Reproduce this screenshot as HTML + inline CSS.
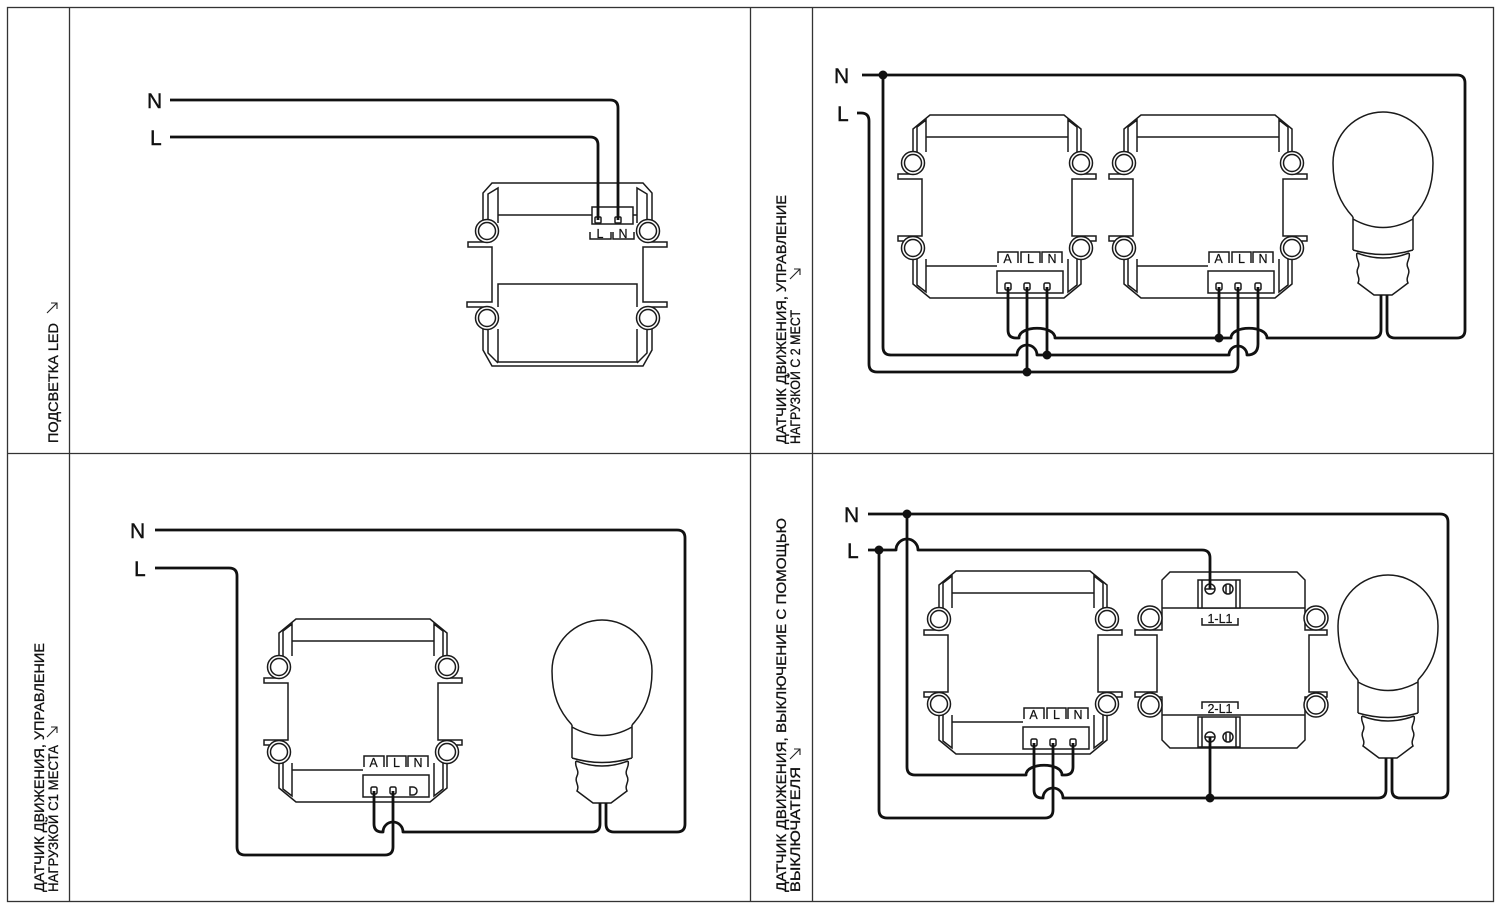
<!DOCTYPE html>
<html><head><meta charset="utf-8">
<style>
html,body{margin:0;padding:0;background:#fff;}
svg{display:block;}
.lbl{font-family:"Liberation Sans","DejaVu Sans",sans-serif;font-size:14px;fill:#111;stroke:#111;stroke-width:0.3;}
.nl{font-family:"Liberation Sans",sans-serif;font-size:21px;fill:#111;stroke:#111;stroke-width:0.4;}
.tl{font-family:"Liberation Sans",sans-serif;font-size:12.5px;fill:#111;text-anchor:middle;stroke:#111;stroke-width:0.2;}
.o{fill:none;stroke:#1a1a1a;stroke-width:1.5;}
.f{fill:#fff;stroke:#1a1a1a;stroke-width:1.5;}
.w{fill:none;stroke:#111;stroke-width:2.8;stroke-linejoin:round;}
.ar{fill:none;stroke:#222;stroke-width:1.1;}
</style></head><body>
<svg width="1500" height="908" viewBox="0 0 1500 908" xmlns="http://www.w3.org/2000/svg">
<defs>
<g id="sensor">
 <path class="f" d="M0,0 H134 L151,14 V59 H166 V64 H142 V121 H166 V126 H151 V169 L134,183 H0 L-17,169 V126 H-32 V121 H-8 V64 H-32 V59 H-17 V14 Z"/>
 <path class="o" d="M-4,37 V5 L-13,12 V37 M138,37 V5 L147,12 V37 M-13,144 V170 L-4,177 V144 M147,144 V170 L138,177 V144 M-4,22 H138 M-4,151 H67"/>
 <circle class="f" cx="-17" cy="48" r="11.5"/><circle class="f" cx="-17" cy="48" r="8.5"/>
 <circle class="f" cx="-17" cy="133" r="11.5"/><circle class="f" cx="-17" cy="133" r="8.5"/>
 <circle class="f" cx="151" cy="48" r="11.5"/><circle class="f" cx="151" cy="48" r="8.5"/>
 <circle class="f" cx="151" cy="133" r="11.5"/><circle class="f" cx="151" cy="133" r="8.5"/>
 <rect class="f" x="67" y="156" width="66" height="22"/>
 <path class="o" d="M68,148 V137 H88 V148 M91,148 V137 H110 V148 M112,148 V137 H132 V148"/>
</g>
<g id="bulb">
 <path class="o" stroke-width="1.7" d="M1353,217 C1340,203 1333,187 1333,163 C1333,134 1356,112 1383,112 C1410,112 1433,134 1433,163 C1433,187 1426,203 1413,217"/>
 <path class="o" stroke-width="1.7" d="M1353,217 V250 M1413,217 V250 M1353,219 Q1383,236 1413,219 M1353,250 Q1383,259 1413,250 M1357,253 Q1383,263 1409,253"/>
 <path class="o" stroke-width="1.7" d="M1357,253 C1355,259 1361,262 1358,268 C1355,274 1361,277 1358,283 L1374,295 H1392 L1408,283 C1405,277 1411,274 1408,268 C1405,262 1411,259 1409,253"/>
</g>
</defs>

<!-- frame -->
<rect x="7.5" y="7.5" width="1486" height="894" fill="none" stroke="#333" stroke-width="1.3"/>
<path d="M69.5,7.5 V901.5 M750.5,7.5 V901.5 M812.5,7.5 V901.5 M7.5,453.5 H1493.5" stroke="#333" stroke-width="1.3" fill="none"/>

<!-- column labels -->
<text class="lbl" transform="translate(58,443) rotate(-90)" textLength="120" lengthAdjust="spacingAndGlyphs">ПОДСВЕТКА LED</text>
<path class="ar" d="M47,313 L57,303 M51,303 H57 V309"/>

<text class="lbl" transform="translate(786,444) rotate(-90)" textLength="249" lengthAdjust="spacingAndGlyphs">ДАТЧИК ДВИЖЕНИЯ, УПРАВЛЕНИЕ</text>
<text class="lbl" transform="translate(800,444) rotate(-90)" textLength="134" lengthAdjust="spacingAndGlyphs">НАГРУЗКОЙ С 2 МЕСТ</text>
<path class="ar" d="M790,279 L800,269 M794,269 H800 V275"/>

<text class="lbl" transform="translate(44,892) rotate(-90)" textLength="249" lengthAdjust="spacingAndGlyphs">ДАТЧИК ДВИЖЕНИЯ, УПРАВЛЕНИЕ</text>
<text class="lbl" transform="translate(58,892) rotate(-90)" textLength="147" lengthAdjust="spacingAndGlyphs">НАГРУЗКОЙ С1 МЕСТА</text>
<path class="ar" d="M47,737 L57,727 M51,727 H57 V733"/>

<text class="lbl" transform="translate(786,892) rotate(-90)" textLength="374" lengthAdjust="spacingAndGlyphs">ДАТЧИК ДВИЖЕНИЯ, ВЫКЛЮЧЕНИЕ С ПОМОЩЬЮ</text>
<text class="lbl" transform="translate(800,892) rotate(-90)" textLength="125" lengthAdjust="spacingAndGlyphs">ВЫКЛЮЧАТЕЛЯ</text>
<path class="ar" d="M790,759 L800,749 M794,749 H800 V755"/>

<!-- ============ TOP-LEFT ============ -->
<text class="nl" x="147" y="108">N</text>
<text class="nl" x="150" y="145">L</text>
<g transform="translate(492,183)">
 <path class="f" d="M0,0 H151 L160,10 V59 H175 V64 H151 V119 H175 V124 H160 V167 L151,183 H0 L-9,167 V124 H-25 V119 H0 V64 H-24 V59 H-9 V10 Z"/>
 <path class="o" d="M6,40 V5 L-4,11 V40 M145,40 V5 L155,11 V40 M6,32 H100 M141,32 H145 M6,124 V101 H145 V124 M6,146 V179 H145 V146 M-4,146 V170 L6,180 M155,146 V170 L145,180"/>
 <circle class="f" cx="-5" cy="48" r="11.5"/><circle class="f" cx="-5" cy="48" r="8.5"/>
 <circle class="f" cx="-5" cy="135" r="11.5"/><circle class="f" cx="-5" cy="135" r="8.5"/>
 <circle class="f" cx="156" cy="48" r="11.5"/><circle class="f" cx="156" cy="48" r="8.5"/>
 <circle class="f" cx="156" cy="135" r="11.5"/><circle class="f" cx="156" cy="135" r="8.5"/>
 <rect class="f" x="100" y="24" width="41" height="17"/>
 <rect class="f" x="103" y="34" width="6" height="6" rx="1"/>
 <rect class="f" x="123" y="34" width="6" height="6" rx="1"/>
 <path class="o" d="M98,49 V56 H119 V49 M121,49 V56 H142 V49"/>
</g>
<text class="tl" x="600" y="238" font-size="13">L</text>
<text class="tl" x="623" y="238" font-size="13">N</text>
<path class="w" d="M170,100 H610 Q618,100 618,108 V220 M170,137 H590 Q598,137 598,145 V220"/>

<!-- ============ TOP-RIGHT ============ -->
<text class="nl" x="834" y="83">N</text>
<text class="nl" x="837" y="121">L</text>
<use href="#sensor" transform="translate(930,115)"/>
<use href="#sensor" transform="translate(1141,115)"/>
<text class="tl" x="1007.5" y="263">A</text><text class="tl" x="1030.5" y="263">L</text><text class="tl" x="1052" y="263">N</text>
<text class="tl" x="1218.5" y="263">A</text><text class="tl" x="1241.5" y="263">L</text><text class="tl" x="1263" y="263">N</text>
<g class="f">
 <rect x="1005" y="283" width="6" height="7" rx="1.5"/><rect x="1024" y="283" width="6" height="7" rx="1.5"/><rect x="1044" y="283" width="6" height="7" rx="1.5"/>
 <rect x="1216" y="283" width="6" height="7" rx="1.5"/><rect x="1235" y="283" width="6" height="7" rx="1.5"/><rect x="1255" y="283" width="6" height="7" rx="1.5"/>
</g>
<use href="#bulb"/>
<path class="w" d="M862,75 H1457 Q1465,75 1465,83 V330 Q1465,338 1457,338 H1395 Q1387,338 1387,330 V295"/>
<path class="w" d="M857,113 H861 Q869,113 869,121 V364 Q869,372 877,372 H1230 Q1238,372 1238,364 V287"/>
<path class="w" d="M883,75 V347 Q883,355 891,355 H1017 A10,10 0 0 1 1037,355 H1229 A9,9 0 0 1 1247,355 Q1258,355 1258,344 V287"/>
<path class="w" d="M1008,287 V330 Q1008,338 1016,338 H1019 C1019,325 1055,325 1055,338 H1231 C1231,325 1267,325 1267,338 H1373 Q1381,338 1381,330 V295"/>
<path class="w" d="M1047,287 V355 M1027,287 V372 M1219,287 V338"/>
<g fill="#111">
 <circle cx="883" cy="75" r="4.5"/><circle cx="1047" cy="355" r="4.5"/><circle cx="1027" cy="372" r="4.5"/><circle cx="1219" cy="338" r="4.5"/>
</g>

<!-- ============ BOTTOM-LEFT ============ -->
<text class="nl" x="130" y="538">N</text>
<text class="nl" x="134" y="576">L</text>
<use href="#sensor" transform="translate(296,619)"/>
<text class="tl" x="373.5" y="767">A</text><text class="tl" x="396.5" y="767">L</text><text class="tl" x="418" y="767">N</text>
<g class="f">
 <rect x="371" y="787" width="6" height="7" rx="1.5"/><rect x="390" y="787" width="6" height="7" rx="1.5"/>
</g>
<path class="o" d="M410,787 H413 A4,4 0 0 1 413,795 H410 Z"/>
<use href="#bulb" transform="translate(-781,508)"/>
<path class="w" d="M155,530 H677 Q685,530 685,538 V824 Q685,832 677,832 H614 Q606,832 606,824 V803"/>
<path class="w" d="M374,791 V824 Q374,832 382,832 H383 A10,10 0 0 1 403,832 H592 Q600,832 600,824 V803"/>
<path class="w" d="M393,791 V847 Q393,855 385,855 H245 Q237,855 237,847 V576 Q237,568 229,568 H155"/>

<!-- ============ BOTTOM-RIGHT ============ -->
<text class="nl" x="844" y="522">N</text>
<text class="nl" x="847" y="558">L</text>
<use href="#sensor" transform="translate(956,571)"/>
<text class="tl" x="1033.5" y="719">A</text><text class="tl" x="1056.5" y="719">L</text><text class="tl" x="1078" y="719">N</text>
<g class="f">
 <rect x="1031" y="739" width="6" height="7" rx="1.5"/><rect x="1050" y="739" width="6" height="7" rx="1.5"/><rect x="1070" y="739" width="6" height="7" rx="1.5"/>
</g>
<!-- switch -->
<path class="f" d="M1170,572 H1297 L1305,580 V630 H1327 V635 H1309 V692 H1327 V697 H1305 V740 L1297,748 H1170 L1162,740 V697 H1135 V692 H1157 V635 H1135 V630 H1162 V580 Z"/>
<path class="o" d="M1162,608 H1305 M1162,715 H1305"/>
<circle class="f" cx="1150" cy="618" r="12"/><circle class="f" cx="1150" cy="618" r="9"/>
<circle class="f" cx="1150" cy="705" r="12"/><circle class="f" cx="1150" cy="705" r="9"/>
<circle class="f" cx="1316" cy="618" r="12"/><circle class="f" cx="1316" cy="618" r="9"/>
<circle class="f" cx="1316" cy="705" r="12"/><circle class="f" cx="1316" cy="705" r="9"/>
<rect class="f" x="1198" y="580" width="42" height="28"/>
<rect class="f" x="1198" y="717" width="42" height="30"/>
<path class="o" d="M1202,580 V608 M1236,580 V608 M1202,717 V747 M1236,717 V747"/>
<g class="f">
 <circle cx="1210" cy="589" r="5"/><circle cx="1228" cy="589" r="5"/>
 <circle cx="1210" cy="737" r="5"/><circle cx="1228" cy="737" r="5"/>
</g>
<path class="o" d="M1226,585 V593 M1230,585 V593 M1226,733 V741 M1230,733 V741 M1205,589 H1215 M1205,737 H1215"/>
<path class="o" d="M1202,618 V625 H1238 V618 M1202,709 V702 H1238 V709"/>
<text class="tl" x="1220" y="623" font-size="12.5">1-L1</text>
<text class="tl" x="1220" y="713" font-size="12.5">2-L1</text>
<use href="#bulb" transform="translate(5,463)"/>
<path class="w" d="M868,514 H1440 Q1448,514 1448,522 V790 Q1448,798 1440,798 H1400 Q1392,798 1392,790 V758"/>
<path class="w" d="M907,514 V767 Q907,775 915,775 H1026 C1026,762 1062,762 1062,775 H1065 Q1073,775 1073,767 V743"/>
<path class="w" d="M868,550 H896 A11,11 0 0 1 918,550 H1202 Q1210,550 1210,558 V589"/>
<path class="w" d="M879,550 V810 Q879,818 887,818 H1045 Q1053,818 1053,810 V743"/>
<path class="w" d="M1034,743 V790 Q1034,798 1042,798 H1043 A10,10 0 0 1 1063,798 H1378 Q1386,798 1386,790 V758"/>
<path class="w" d="M1210,737 V798"/>
<g fill="#111">
 <circle cx="907" cy="514" r="4.5"/><circle cx="879" cy="550" r="4.5"/><circle cx="1210" cy="798" r="4.5"/>
</g>
</svg>
</body></html>
